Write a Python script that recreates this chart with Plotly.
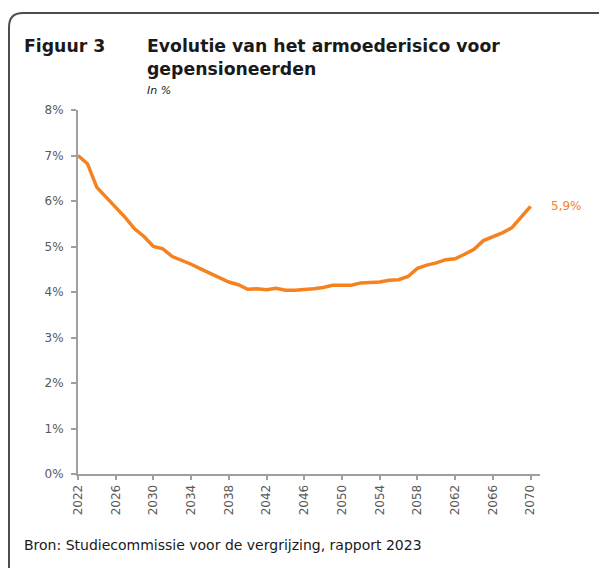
import plotly.graph_objects as go

years = list(range(2022, 2071))
risk = [7.00, 6.82, 6.30, 6.08, 5.88, 5.64, 5.39, 5.22, 5.00, 4.95,
        4.78, 4.70, 4.61, 4.51, 4.42, 4.33, 4.22, 4.16, 4.06, 4.07,
        4.05, 4.08, 4.04, 4.04, 4.05, 4.07, 4.10, 4.15, 4.15, 4.15,
        4.20, 4.21, 4.22, 4.26, 4.27, 4.34, 4.52, 4.59, 4.64, 4.71,
        4.73, 4.83, 4.94, 5.13, 5.21, 5.30, 5.41, 5.65, 5.88]
tick_years = list(range(2022, 2071, 4))
y_ticks = list(range(0, 9))
end_label = "5,9%"

W, H = 607, 568
L, R, T, B = 70, 532, 102, 466
PW, PH = R - L, B - T

def px(X):
    return (X - L) / PW

def py(Y):
    return (B - Y) / PH

ORANGE = "#F5821F"
GRAY = "#595959"
FONT = "DejaVu Sans"

fig = go.Figure()
fig.add_trace(go.Scatter(x=years, y=risk, mode="lines",
                         line=dict(color=ORANGE, width=3.5),
                         hoverinfo="skip", showlegend=False))

fig.add_annotation(x=years[-1], y=risk[-1], xref="x", yref="y", text=end_label,
                   showarrow=False, xanchor="left", yanchor="middle", xshift=18,
                   font=dict(family=FONT, size=12, color=ORANGE))

# Titles
TITLE = dict(family=FONT, size=17.3, color="#1a1a1a")
fig.add_annotation(x=px(14), y=py(38), xref="paper", yref="paper", text="<b>Figuur 3</b>",
                   showarrow=False, xanchor="left", yanchor="middle", font=TITLE)
fig.add_annotation(x=px(137), y=py(38), xref="paper", yref="paper",
                   text="<b>Evolutie van het armoederisico voor</b>",
                   showarrow=False, xanchor="left", yanchor="middle", font=TITLE)
fig.add_annotation(x=px(137), y=py(61), xref="paper", yref="paper",
                   text="<b>gepensioneerden</b>",
                   showarrow=False, xanchor="left", yanchor="middle", font=TITLE)
fig.add_annotation(x=px(137), y=py(83), xref="paper", yref="paper",
                   text="<i>In %</i>",
                   showarrow=False, xanchor="left", yanchor="middle",
                   font=dict(family=FONT, size=11, color="#1a1a1a"))
fig.add_annotation(x=px(14), y=py(537), xref="paper", yref="paper",
                   text="Bron: Studiecommissie voor de vergrijzing, rapport 2023",
                   showarrow=False, xanchor="left", yanchor="middle",
                   font=dict(family=FONT, size=14, color="#1a1a1a"))

# Rounded frame (left and top edges visible)
r = 14
path = (f"M {px(1)},{py(640)} L {px(1)},{py(5 + r)} "
        f"Q {px(1)},{py(5)} {px(1 + r)},{py(5)} L {px(640)},{py(5)}")
fig.add_shape(type="path", path=path, xref="paper", yref="paper",
              line=dict(color="#4d4d4d", width=2))

fig.update_layout(
    width=W, height=H,
    margin=dict(l=L, r=W - R, t=T, b=H - B, pad=0),
    paper_bgcolor="white", plot_bgcolor="white",
    showlegend=False,
    xaxis=dict(range=[2022, 2071], tickvals=tick_years, ticktext=[str(y) for y in tick_years],
               tickangle=-90, showgrid=False, zeroline=False,
               showline=True, linecolor="#a0a0a0", linewidth=2,
               ticks="outside", ticklen=4, tickwidth=1.5, tickcolor="#a0a0a0",
               tickfont=dict(family=FONT, size=12, color=GRAY)),
    yaxis=dict(range=[0, 8], tickvals=y_ticks, ticktext=[f"{v}%" for v in y_ticks],
               showgrid=False, zeroline=False,
               showline=True, linecolor="#a0a0a0", linewidth=2,
               ticks="outside", ticklen=5, tickwidth=1.5, tickcolor="#a0a0a0",
               ticklabelstandoff=5,
               tickfont=dict(family=FONT, size=12, color=GRAY)),
)

fig.write_html("out.html")
